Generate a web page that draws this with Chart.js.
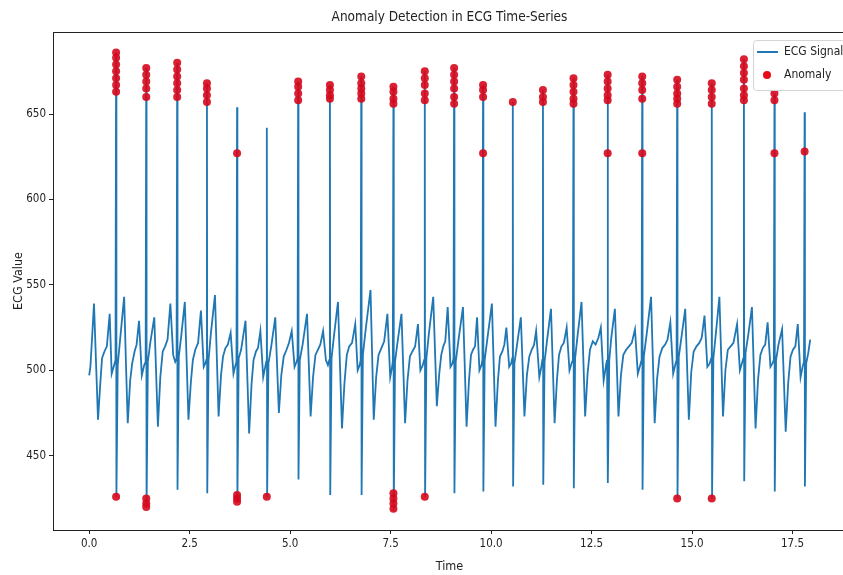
<!DOCTYPE html>
<html>
<head>
<meta charset="utf-8">
<title>Anomaly Detection in ECG Time-Series</title>
<script src="https://cdn.jsdelivr.net/npm/chart.js@4.4.1/dist/chart.umd.min.js"></script>
<style>
  html, body { margin: 0; padding: 0; background: #fff; overflow: hidden; }
  /* the original figure is a little wider than the window: its right spine is cut off */
  #wrap { position: relative; width: 850px; height: 575px; }
</style>
</head>
<body>
<div id="wrap"><canvas id="ecgChart"></canvas></div>
<script>
// ECG signal (time in s, value), one row per beat
const ecgTime = [
  0.00, 0.03, 0.07, 0.12, 0.17, 0.22, 0.27, 0.32, 0.38, 0.44, 0.51, 0.56, 0.62, 0.655,
  0.67, 0.678, 0.71, 0.77, 0.87, 0.92, 0.96, 1.02, 1.07, 1.13, 1.18, 1.24, 1.31, 1.37, 1.405,
  1.42, 1.428, 1.46, 1.52, 1.62, 1.71, 1.77, 1.83, 1.89, 1.95, 2.02, 2.09, 2.14, 2.175,
  2.19, 2.198, 2.23, 2.29, 2.38, 2.47, 2.53, 2.58, 2.64, 2.71, 2.78, 2.85, 2.89, 2.915,
  2.93, 2.938, 2.97, 3.03, 3.13, 3.22, 3.28, 3.33, 3.39, 3.45, 3.52, 3.59, 3.64, 3.665,
  3.68, 3.688, 3.72, 3.78, 3.89, 3.98, 4.04, 4.09, 4.15, 4.20, 4.26, 4.33, 4.38, 4.405,
  4.42, 4.428, 4.46, 4.53, 4.63, 4.72, 4.78, 4.84, 4.91, 4.97, 5.04, 5.11, 5.16, 5.185,
  5.20, 5.208, 5.24, 5.31, 5.42, 5.51, 5.57, 5.63, 5.69, 5.75, 5.82, 5.89, 5.94, 5.975,
  5.99, 5.998, 6.03, 6.09, 6.19, 6.29, 6.35, 6.41, 6.47, 6.54, 6.62, 6.68, 6.73, 6.755,
  6.77, 6.778, 6.81, 6.88, 7.00, 7.08, 7.14, 7.20, 7.27, 7.34, 7.42, 7.49, 7.53, 7.555,
  7.57, 7.578, 7.61, 7.67, 7.77, 7.86, 7.92, 7.98, 8.04, 8.11, 8.18, 8.24, 8.30, 8.335,
  8.35, 8.358, 8.39, 8.45, 8.56, 8.65, 8.71, 8.76, 8.81, 8.86, 8.92, 8.99, 9.04, 9.065,
  9.08, 9.088, 9.12, 9.19, 9.30, 9.39, 9.45, 9.50, 9.55, 9.60, 9.65, 9.71, 9.76, 9.785,
  9.80, 9.808, 9.84, 9.91, 10.02, 10.11, 10.17, 10.22, 10.28, 10.33, 10.38, 10.45, 10.50, 10.525,
  10.54, 10.548, 10.58, 10.64, 10.74, 10.83, 10.89, 10.95, 11.01, 11.07, 11.12, 11.20, 11.25, 11.275,
  11.29, 11.298, 11.33, 11.39, 11.49, 11.58, 11.64, 11.69, 11.75, 11.81, 11.88, 11.95, 12.00, 12.035,
  12.05, 12.058, 12.09, 12.15, 12.25, 12.34, 12.40, 12.46, 12.53, 12.60, 12.67, 12.73, 12.80, 12.86, 12.885,
  12.90, 12.908, 12.94, 12.99, 13.08, 13.17, 13.23, 13.29, 13.36, 13.43, 13.50, 13.58, 13.65, 13.71, 13.745,
  13.76, 13.768, 13.80, 13.87, 13.98, 14.07, 14.13, 14.19, 14.26, 14.33, 14.39, 14.46, 14.53, 14.59, 14.615,
  14.63, 14.638, 14.67, 14.74, 14.83, 14.92, 14.98, 15.04, 15.11, 15.18, 15.24, 15.31, 15.38, 15.44, 15.475,
  15.49, 15.498, 15.53, 15.59, 15.68, 15.77, 15.83, 15.89, 15.96, 16.03, 16.12, 16.19, 16.24, 16.275,
  16.29, 16.298, 16.33, 16.40, 16.49, 16.58, 16.64, 16.70, 16.76, 16.82, 16.88, 16.95, 17.00, 17.035,
  17.05, 17.058, 17.09, 17.15, 17.24, 17.33, 17.39, 17.45, 17.51, 17.57, 17.63, 17.70, 17.75, 17.785,
  17.80, 17.808, 17.84, 17.89, 17.94
];
const ecgValue = [
  497, 502, 518, 539, 505, 471, 490, 507, 511, 514, 533, 498, 503, 506,
  686, 426, 503, 518, 543, 500, 469, 494, 504, 511, 515, 529, 497, 503, 505,
  677, 420, 505, 516, 531, 467, 496, 511, 514, 518, 539, 509, 505, 507,
  680, 430, 508, 520, 540, 471, 493, 506, 512, 516, 535, 502, 504, 506,
  668, 428, 506, 522, 544, 473, 497, 508, 513, 515, 522, 498, 503, 505,
  654, 423, 507, 512, 529, 463, 492, 506, 511, 513, 523, 496, 502, 505,
  642, 426, 504, 514, 531, 475, 497, 508, 512, 516, 523, 502, 505, 507,
  669, 436, 506, 515, 533, 473, 496, 509, 512, 515, 523, 506, 503, 506,
  667, 427, 507, 520, 540, 466, 492, 509, 514, 516, 527, 500, 503, 506,
  672, 427, 509, 524, 547, 471, 496, 509, 513, 517, 533, 496, 501, 505,
  666, 418, 505, 516, 533, 469, 494, 508, 511, 514, 527, 500, 503, 506,
  675, 426, 507, 521, 543, 479, 498, 509, 514, 517, 537, 502, 504, 507,
  677, 428, 505, 518, 537, 467, 494, 509, 512, 514, 531, 500, 503, 506,
  667, 429, 506, 519, 539, 467, 494, 508, 511, 515, 525, 502, 504, 507,
  657, 432, 504, 514, 531, 473, 497, 508, 512, 515, 523, 496, 502, 506,
  664, 433, 505, 517, 536, 469, 495, 509, 514, 516, 525, 500, 504, 506,
  671, 431, 507, 520, 540, 473, 498, 512, 517, 515, 519, 525, 494, 503, 506,
  673, 434, 506, 519, 536, 473, 497, 509, 512, 514, 516, 524, 498, 503, 506,
  672, 430, 508, 521, 543, 469, 495, 508, 513, 515, 518, 528, 498, 504, 506,
  670, 425, 508, 520, 536, 471, 499, 511, 514, 516, 519, 532, 502, 504, 507,
  668, 425, 507, 521, 543, 473, 500, 512, 514, 516, 527, 500, 504, 507,
  682, 435, 510, 521, 537, 466, 494, 509, 513, 515, 528, 502, 504, 506,
  662, 429, 506, 515, 524, 464, 492, 508, 512, 514, 527, 496, 502, 505,
  651, 432, 504, 510, 518
];

// flagged samples
const anomalyTime = [
  0.67, 0.67, 0.67, 0.67, 0.67, 0.67, 0.67, 0.67,
  1.42, 1.42, 1.42, 1.42, 1.42, 1.42, 1.42, 1.42,
  2.19, 2.19, 2.19, 2.19, 2.19, 2.19,
  2.93, 2.93, 2.93, 2.93,
  3.68, 3.68, 3.68, 3.68,
  4.42,
  5.20, 5.20, 5.20, 5.20,
  5.99, 5.99, 5.99, 5.99,
  6.77, 6.77, 6.77, 6.77, 6.77,
  7.57, 7.57, 7.57, 7.57, 7.57, 7.57, 7.57, 7.57,
  8.35, 8.35, 8.35, 8.35, 8.35, 8.35,
  9.08, 9.08, 9.08, 9.08, 9.08, 9.08,
  9.80, 9.80, 9.80, 9.80,
  10.54,
  11.29, 11.29, 11.29,
  12.05, 12.05, 12.05, 12.05, 12.05,
  12.90, 12.90, 12.90, 12.90, 12.90, 12.90,
  13.76, 13.76, 13.76, 13.76, 13.76,
  14.63, 14.63, 14.63, 14.63, 14.63, 14.63,
  15.49, 15.49, 15.49, 15.49, 15.49,
  16.29, 16.29, 16.29, 16.29, 16.29, 16.29, 16.29,
  17.05, 17.05, 17.05,
  17.80
];
const anomalyValue = [
  686, 683, 679, 675, 671, 667, 663, 426,
  677, 673, 669, 665, 660, 425, 422, 420,
  680, 676, 672, 668, 664, 660,
  668, 665, 661, 657,
  627, 427, 425, 423,
  426,
  669, 666, 662, 658,
  667, 664, 661, 659,
  672, 668, 665, 662, 659,
  666, 663, 659, 656, 428, 425, 422, 419,
  675, 671, 667, 662, 658, 426,
  677, 673, 669, 665, 660, 656,
  667, 664, 660, 627,
  657,
  664, 660, 657,
  671, 667, 663, 659, 656,
  673, 669, 665, 661, 658, 627,
  672, 668, 664, 659, 627,
  670, 666, 662, 659, 656, 425,
  668, 664, 660, 656, 425,
  682, 678, 674, 670, 665, 661, 658,
  662, 658, 627,
  628
];

const xTickValues = [0, 2.5, 5, 7.5, 10, 12.5, 15, 17.5];
const yTickValues = [450, 500, 550, 600, 650];

const lineColor = '#1f77b4';
const dotColor = 'rgba(214, 8, 28, 0.9)';
const textColor = '#222';
const fontFamily = '"DejaVu Sans Condensed", "Liberation Sans Narrow", "DejaVu Sans", sans-serif';

Chart.defaults.font.family = fontFamily;
Chart.defaults.color = textColor;

// full box round the plot, like matplotlib spines
const framePlugin = {
    id: 'frame',
    afterDraw(chart) {
        const { ctx, chartArea: a } = chart;
        ctx.save();
        ctx.strokeStyle = '#222';
        ctx.lineWidth = 1;
        ctx.strokeRect(a.left + 0.5, a.top + 0.5, a.right - a.left, a.bottom - a.top);
        ctx.restore();
    }
};

// legend box in the upper right corner of the plot
const cornerLegend = {
    id: 'cornerLegend',
    afterDraw(chart) {
        const ctx = chart.ctx;
        const x = 753, y = 40, w = 92, h = 50;
        ctx.save();
        ctx.fillStyle = 'rgba(255,255,255,0.85)';
        ctx.strokeStyle = '#d4d4d4';
        ctx.lineWidth = 1;
        ctx.beginPath();
        ctx.roundRect(x + 0.5, y + 0.5, w, h, 3);
        ctx.fill();
        ctx.stroke();

        ctx.strokeStyle = lineColor;
        ctx.lineWidth = 2;
        ctx.beginPath();
        ctx.moveTo(757, 52);
        ctx.lineTo(778, 52);
        ctx.stroke();

        ctx.fillStyle = 'rgb(232, 10, 20)';
        ctx.beginPath();
        ctx.arc(767, 75, 4, 0, Math.PI * 2);
        ctx.fill();

        ctx.fillStyle = textColor;
        ctx.font = '12px ' + fontFamily;
        ctx.textBaseline = 'middle';
        ctx.fillText('ECG Signal', 784, 52);
        ctx.fillText('Anomaly', 784, 75);
        ctx.restore();
    }
};

const ctx = document.getElementById('ecgChart');

new Chart(ctx, {
    type: 'line',
    data: {
        datasets: [
            {
                type: 'scatter',
                label: 'Anomaly',
                data: anomalyTime.map((t, i) => ({ x: t, y: anomalyValue[i] })),
                backgroundColor: dotColor,
                borderWidth: 0,
                pointRadius: 4,
                order: 0
            },
            {
                label: 'ECG Signal',
                data: ecgTime.map((t, i) => ({ x: t, y: ecgValue[i] })),
                borderColor: lineColor,
                borderWidth: 1.8,
                pointRadius: 0,
                tension: 0,
                fill: false,
                order: 1
            }
        ]
    },
    options: {
        responsive: true,
        maintainAspectRatio: false,
        animation: false,
        layout: { padding: 0 },
        plugins: {
            legend: { display: false },
            tooltip: { enabled: false },
            title: {
                display: true,
                text: 'Anomaly Detection in ECG Time-Series',
                fullSize: false,
                color: textColor,
                font: { size: 13.5, weight: 'normal', lineHeight: '16px' },
                padding: { top: 9, bottom: 7 }
            }
        },
        scales: {
            x: {
                type: 'linear',
                min: -0.9,
                max: 18.83,
                afterBuildTicks: scale => { scale.ticks = xTickValues.map(v => ({ value: v })); },
                afterFit: scale => { scale.height = 45; },
                ticks: {
                    callback: v => Number(v).toFixed(1),
                    font: { size: 11.5 },
                    color: textColor,
                    padding: 3,
                    maxRotation: 0
                },
                grid: { display: true, drawOnChartArea: false, drawTicks: true, tickLength: 4, color: '#222' },
                border: { display: true, color: '#222' },
                title: { display: true, text: 'Time', font: { size: 12.5 }, color: textColor, padding: { top: 0, bottom: 1 } }
            },
            y: {
                min: 406.5,
                max: 698,
                afterBuildTicks: scale => { scale.ticks = yTickValues.map(v => ({ value: v })); },
                afterFit: scale => { scale.width = 53; },
                ticks: {
                    callback: v => String(v),
                    font: { size: 11.5 },
                    color: textColor,
                    padding: 3
                },
                grid: { display: true, drawOnChartArea: false, drawTicks: true, tickLength: 4, color: '#222' },
                border: { display: true, color: '#222' },
                title: { display: true, text: 'ECG Value', font: { size: 12.5 }, color: textColor, padding: { top: 11, bottom: 0 } }
            }
        }
    },
    plugins: [framePlugin, cornerLegend]
});
</script>
</body>
</html>
